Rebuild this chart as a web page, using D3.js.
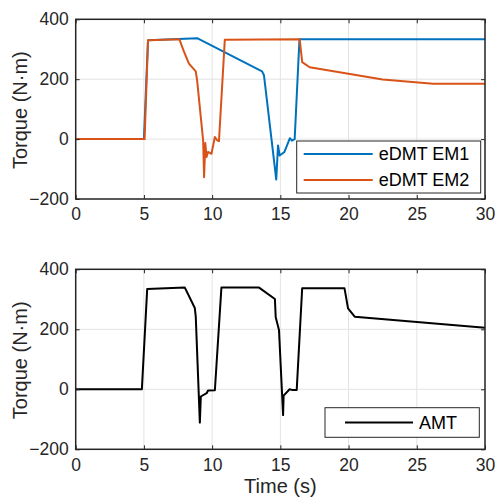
<!DOCTYPE html>
<html>
<head>
<meta charset="utf-8">
<script src="https://cdn.jsdelivr.net/npm/d3@7"></script>
<style>
  body { margin: 0; background: #fff; }
  svg { font-family: "Liberation Sans", Arial, sans-serif; }
</style>
</head>
<body>
<div id="chart"></div>
<script>
// Torque traces (time s, torque N·m)
const em1Time   = [0, 5.0, 5.3, 8.9, 13.66, 13.8, 14.7, 14.83, 14.95, 15.3, 15.7, 15.85, 16.05, 16.4, 30];
const em1Torque = [0, 0, 330, 337, 226, 213, -135, -21, -55, -43, 3, -5, 0, 333, 333];

const em2Time   = [0, 5.05, 5.3, 7.6, 7.9, 8.3, 8.8, 8.9, 9.34, 9.41, 9.5, 9.59, 9.7, 9.95, 10.2, 10.37, 10.5, 10.93, 16.42, 16.6, 17.15, 22.5, 26.2, 30];
const em2Torque = [0, 0, 330, 333, 296, 252, 226, 196, -4, -127, -13, -60, -43, -49, 7, -4, -7, 332, 333, 257, 240, 199, 185, 185];

const amtTime   = [0, 4.85, 5.24, 8.0, 8.73, 8.8, 9.1, 9.17, 9.6, 9.7, 10.2, 10.68, 13.44, 14.6, 14.66, 14.9, 15.2, 15.24, 15.68, 15.85, 16.2, 16.6, 19.7, 19.96, 20.45, 30];
const amtTorque = [0, 0, 334, 339, 271, 242, -111, -24, -13, -4, -3, 339, 339, 301, 240, 198, -86, -21, 0, -2, -2, 337, 337, 270, 242, 205];

const xTicks = [0, 5, 10, 15, 20, 25, 30];
const yTicks = [-200, 0, 200, 400];

const width = 495, height = 497;
const svg = d3.select('#chart').append('svg')
    .attr('width', width)
    .attr('height', height);

const x = d3.scaleLinear().domain([0, 30]).range([75.7, 485]);

function panel(top, bottom, series, legend) {
    const y = d3.scaleLinear().domain([-200, 400]).range([bottom, top]);
    const g = svg.append('g');

    // grid
    g.selectAll('.gx').data(xTicks).enter().append('line')
        .attr('x1', d => x(d)).attr('x2', d => x(d))
        .attr('y1', top).attr('y2', bottom)
        .attr('stroke', '#e3e3e3').attr('stroke-width', 1);
    g.selectAll('.gy').data(yTicks).enter().append('line')
        .attr('x1', x(0)).attr('x2', x(30))
        .attr('y1', d => y(d)).attr('y2', d => y(d))
        .attr('stroke', '#e3e3e3').attr('stroke-width', 1);

    // lines
    const line = d3.line().x(d => x(d[0])).y(d => y(d[1]));
    series.forEach(s => {
        g.append('path')
            .datum(d3.zip(s.t, s.v))
            .attr('d', line)
            .attr('fill', 'none')
            .attr('stroke', s.color)
            .attr('stroke-width', 2)
            .attr('stroke-linejoin', 'round');
    });

    // axes, ticks inward, box
    g.append('g').attr('transform', `translate(0,${bottom})`)
        .call(d3.axisBottom(x).tickValues(xTicks).tickSizeInner(-4).tickSizeOuter(0).tickPadding(9));
    g.append('g').attr('transform', `translate(0,${top})`)
        .call(d3.axisTop(x).tickValues(xTicks).tickSizeInner(-4).tickSizeOuter(0).tickFormat(''));
    g.append('g').attr('transform', `translate(${x(0)},0)`)
        .call(d3.axisLeft(y).tickValues(yTicks).tickSizeInner(-4).tickSizeOuter(0).tickPadding(7));
    g.append('g').attr('transform', `translate(${x(30)},0)`)
        .call(d3.axisRight(y).tickValues(yTicks).tickSizeInner(-4).tickSizeOuter(0).tickFormat(''));
    g.selectAll('.domain').remove();
    g.selectAll('.tick line').attr('stroke', '#262626').attr('stroke-width', 1);
    g.selectAll('.tick text').attr('fill', '#262626').style('font-size', '17.5px');

    g.append('rect')
        .attr('x', x(0)).attr('y', top)
        .attr('width', x(30) - x(0)).attr('height', bottom - top)
        .attr('fill', 'none').attr('stroke', '#262626').attr('stroke-width', 1.5);

    g.append('text')
        .attr('transform', `translate(27,${(top + bottom) / 2 + 1}) rotate(-90)`)
        .attr('text-anchor', 'middle')
        .attr('fill', '#262626')
        .style('font-size', '20px')
        .text('Torque (N·m)');

    // legend
    const lg = g.append('g');
    lg.append('rect')
        .attr('x', legend.x).attr('y', legend.y)
        .attr('width', legend.w).attr('height', legend.h)
        .attr('fill', '#fff').attr('stroke', '#262626').attr('stroke-width', 1);
    series.forEach((s, i) => {
        const cy = legend.y + legend.h / (series.length * 2) * (2 * i + 1);
        lg.append('line')
            .attr('x1', legend.x + legend.lx0).attr('x2', legend.x + legend.lx1)
            .attr('y1', cy).attr('y2', cy)
            .attr('stroke', s.color).attr('stroke-width', 2);
        lg.append('text')
            .attr('x', legend.x + legend.lx1 + 6).attr('y', cy)
            .attr('dy', '0.35em')
            .attr('fill', '#000')
            .style('font-size', '18px')
            .text(s.name);
    });
}

panel(19.3, 199, [
    { name: 'eDMT EM1', t: em1Time, v: em1Torque, color: '#0072BD' },
    { name: 'eDMT EM2', t: em2Time, v: em2Torque, color: '#D95319' }
], { x: 296.7, y: 141, w: 184, h: 52, lx0: 7, lx1: 76 });

panel(269.3, 449.3, [
    { name: 'AMT', t: amtTime, v: amtTorque, color: '#000000' }
], { x: 325, y: 407.7, w: 154.3, h: 29.6, lx0: 20, lx1: 88 });

svg.append('text')
    .attr('x', x(15)).attr('y', 493)
    .attr('text-anchor', 'middle')
    .attr('fill', '#262626')
    .style('font-size', '20px')
    .text('Time (s)');
</script>
</body>
</html>
